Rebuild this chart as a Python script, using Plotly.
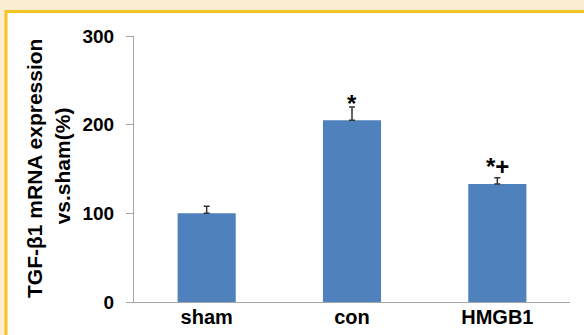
import plotly.graph_objects as go

categories = ["sham", "con", "HMGB1"]
values = [100, 205, 133]
errors_up = [8, 15, 7]
marks = ["", "*", "*+"]
y_ticks = [0, 100, 200, 300]

FONT = "Liberation Sans, Arial, sans-serif"
BAR = "#4F81BD"
AXIS = "#A6A6A6"
CREAM = "#FAEDD2"
GOLD = "#F6C41E"

fig = go.Figure()
fig.add_trace(go.Bar(
    x=categories, y=values, width=0.4,
    marker=dict(color=BAR, line=dict(width=0)),
    error_y=dict(type="data", array=errors_up, arrayminus=[0] * len(values),
                 symmetric=False, color="#333333", thickness=1.5, width=3),
))

mark_shift = {"*": -12, "*+": -4}
for c, v, e, m in zip(categories, values, errors_up, marks):
    if m:
        fig.add_annotation(x=c, y=v + e, xref="x", yref="y", text=m,
                           showarrow=False, yanchor="bottom", yshift=mark_shift[m],
                           font=dict(family=FONT, size=24, color="#000000", weight="bold"))

fig.add_annotation(text="TGF-β1 mRNA expression", xref="paper", yref="paper",
                   x=0, y=0.5, xshift=-100, xanchor="center", yanchor="middle",
                   textangle=-90, showarrow=False,
                   font=dict(family=FONT, size=21, color="#000000", weight="bold"))
fig.add_annotation(text="vs.sham(%)", xref="paper", yref="paper",
                   x=0, y=0.51, xshift=-72, xanchor="center", yanchor="middle",
                   textangle=-90, showarrow=False,
                   font=dict(family=FONT, size=21, color="#000000", weight="bold"))

# frame: white panel with gold top/left border on cream background
fig.add_shape(type="rect", xref="paper", yref="paper",
              x0=(6 - 134) / 436, x1=1.5, y0=-0.5, y1=(302 - 11.5) / 266,
              fillcolor="#FFFFFF", line=dict(color=GOLD, width=3), layer="below")

fig.update_layout(
    width=584, height=335,
    margin=dict(l=134, r=14, t=36, b=33, pad=0, autoexpand=False),
    paper_bgcolor=CREAM, plot_bgcolor="rgba(0,0,0,0)",
    showlegend=False, bargap=0.6,
    font=dict(family=FONT, color="#000000"),
)
fig.update_xaxes(showline=True, linecolor=AXIS, linewidth=1, ticks="",
                 showgrid=False, automargin=False, ticklabelstandoff=-3,
                 tickfont=dict(family=FONT, size=20, weight="bold"),
                 range=[-0.5, 2.5])
fig.update_yaxes(range=[0, 300], tickvals=y_ticks, showline=True, linecolor=AXIS,
                 linewidth=1, ticks="outside", ticklen=7, tickcolor=AXIS,
                 showgrid=False, zeroline=False, ticklabelstandoff=8, automargin=False,
                 tickfont=dict(family=FONT, size=19, weight="bold"))

fig.write_html("out.html")
